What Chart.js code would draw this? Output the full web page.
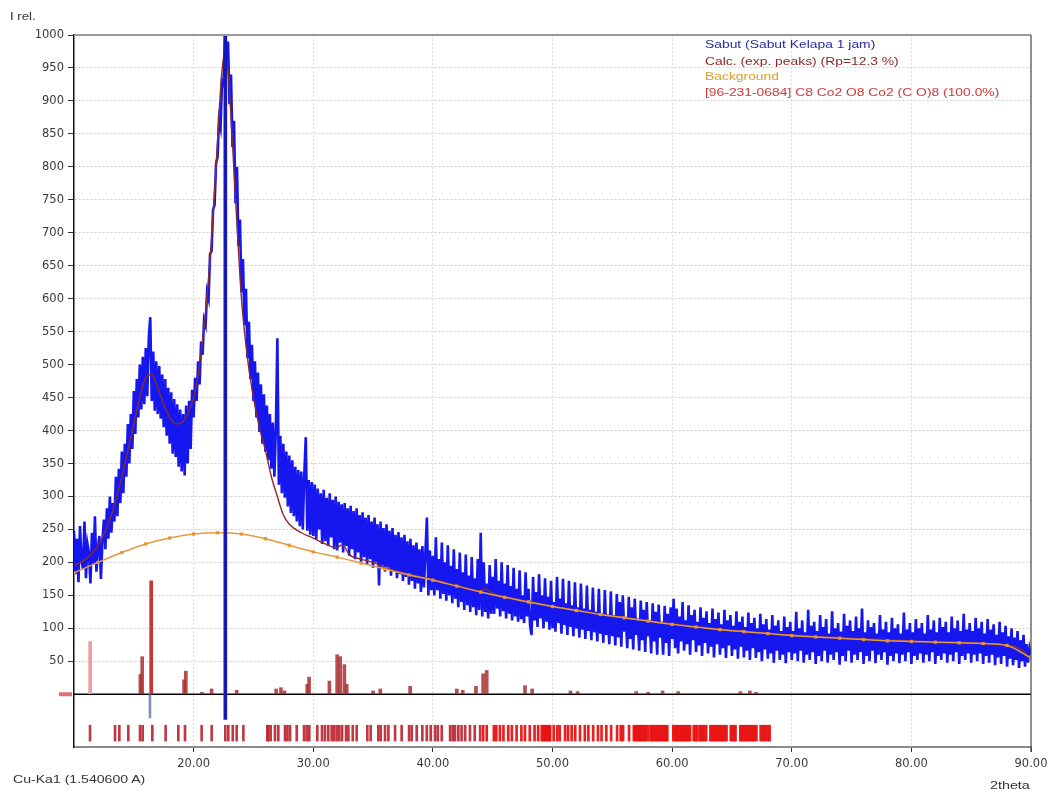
<!DOCTYPE html>
<html>
<head>
<meta charset="utf-8">
<script src="https://cdn.jsdelivr.net/npm/chart.js@4/dist/chart.umd.min.js"></script>
<style>
html,body{margin:0;padding:0;background:#fff;}
#wrap{position:relative;width:1055px;height:796px;overflow:hidden;}
#c{position:absolute;left:0;top:0;}
.t{position:absolute;font-family:"Liberation Sans",Arial,sans-serif;font-size:11px;line-height:13px;white-space:nowrap;transform-origin:0 0;}
</style>
</head>
<body>
<div id="wrap">
<canvas id="c" width="1055" height="796"></canvas>
<div class="t" style="left:10px;top:10px;color:#333;transform:scaleX(1.2)">I rel.</div>
<div class="t" style="left:13px;top:773px;color:#333;transform:scaleX(1.28)">Cu-Ka1 (1.540600 A)</div>
<div class="t" style="left:990px;top:779px;color:#333;transform:scaleX(1.3)">2theta</div>
<div class="t" style="left:705px;top:38px;color:#2b2ba0;transform:scaleX(1.26)">Sabut (Sabut Kelapa 1 jam)</div>
<div class="t" style="left:705px;top:55px;color:#8b2b2b;transform:scaleX(1.26)">Calc. (exp. peaks) (Rp=12.3 %)</div>
<div class="t" style="left:705px;top:70px;color:#d8a030;transform:scaleX(1.26)">Background</div>
<div class="t" style="left:705px;top:86px;color:#d03a3a;transform:scaleX(1.26)">[96-231-0684] C8 Co2 O8 Co2 (C O)8 (100.0%)</div>
</div>
<script>
// ---------------- DATA ----------------
// Observed scan: 2theta from 10.000 to 90.000, step 0.125 deg (20 values per row = 2.5 deg)
const OBS_START = 10;
const OBS_STEP = 0.125;
const obsY = [
  248,182,236,170,255,205,190,262,176,228,214,168,245,198,270,186,222,240,175,232, // 10.0
  265,220,282,236,300,245,290,262,330,270,342,290,368,305,380,330,410,350,425,372, // 12.5
  460,395,478,420,500,432,512,440,525,452,540,572,445,520,430,505,425,498,418,485, // 15.0
  405,478,392,465,380,458,365,448,360,440,345,432,338,425,332,438,350,445,372,462, // 17.5
  420,480,445,505,470,535,515,568,560,610,600,668,672,735,742,805,815,872,860,930, // 20.0
  925,1000,950,990,895,940,830,870,745,800,680,720,610,660,560,615,510,565,478,530, // 22.5
  445,505,420,488,398,470,380,455,368,438,355,425,342,412,330,402,540,318,392,305, // 25.0
  380,298,368,285,362,275,355,270,345,262,340,255,338,250,332,390,248,325,242,322, // 27.5
  240,318,235,312,250,305,228,310,232,298,225,305,238,295,220,300,218,292,230,288, // 30.0
  215,290,225,282,210,286,220,278,205,282,215,272,200,276,208,268,196,272,205,262, // 32.5
  192,268,200,258,165,262,195,252,186,258,192,248,180,252,186,242,176,246,182,238, // 35.0
  172,242,178,232,166,236,172,226,160,230,168,220,155,225,162,215,268,150,218,158, // 37.5
  210,150,238,158,205,145,230,152,200,142,226,150,195,138,220,145,190,132,215,140, // 40.0
  185,128,212,135,180,125,208,132,176,120,205,128,245,118,200,125,168,115,196,122, // 42.5
  178,122,205,130,172,118,200,126,168,115,196,122,164,112,192,118,160,110,188,114, // 45.0
  150,108,185,118,160,104,90,178,112,155,102,182,115,150,100,176,110,148,98,172,   // 47.5
  100,140,95,178,108,145,92,175,105,138,90,172,102,135,88,170,100,132,86,168,      // 50.0
  98,130,84,165,96,128,82,162,94,125,80,160,92,122,78,158,90,120,76,156,           // 52.5
  88,118,74,152,86,140,72,150,95,115,70,148,84,132,68,145,90,112,66,142,           // 55.0
  82,128,64,140,88,110,62,138,80,125,60,136,86,108,60,134,78,122,58,132,           // 57.5
  84,145,70,130,62,118,80,140,66,112,76,135,60,120,82,128,64,110,74,132,           // 60.0
  58,116,78,126,62,108,72,130,56,114,76,124,60,106,70,128,55,112,74,120,           // 62.5
  58,104,68,126,54,110,72,118,56,102,66,124,52,108,70,116,55,100,64,122,           // 65.0
  50,106,68,114,54,98,62,120,48,104,66,112,52,96,60,118,47,102,64,110,             // 67.5
  52,96,62,125,50,100,66,112,48,94,60,128,52,104,64,110,46,96,58,120,              // 70.0
  50,102,66,114,48,92,60,126,52,100,64,108,45,95,58,122,50,104,66,112,             // 72.5
  48,96,60,118,52,100,64,130,46,94,58,112,50,102,66,108,47,92,60,120,              // 75.0
  52,98,64,110,45,94,58,116,50,100,62,106,47,92,60,124,50,98,64,108,               // 77.5
  46,94,58,114,52,100,62,108,48,92,60,120,50,98,64,112,46,94,58,116,               // 80.0
  52,102,62,110,48,94,60,118,50,100,64,112,46,96,58,122,52,98,62,108,              // 82.5
  48,96,60,116,50,100,62,110,46,92,58,114,48,98,60,106,44,90,56,110,               // 85.0
  46,94,58,104,42,88,54,100,44,86,52,96,40,82,50,90,42,76,48,70,                   // 87.5
  60                                                                               // 90.0
];

// Calculated profile (exp. peaks)
const calcX = [10,11,12,13,14,15,15.5,16,16.5,17,17.5,18,18.5,19,19.5,20,20.5,21,21.5,22,22.3,22.6,22.9,23.2,23.6,24,24.5,25,25.5,26,26.5,27,27.5,28,29,30,31,32,32.3,32.6,33,34,35,36,38,40,42,44,44.4,45,46,48,50,55,60,65,70,75,80,85,88,89,90];
const calcY = [195,205,225,265,330,410,450,480,485,465,440,420,410,412,425,450,500,580,690,840,930,975,940,850,720,600,510,450,405,370,330,300,272,258,245,237,228,222,226,224,212,205,200,192,182,174,165,157,160,153,148,141,134,119,107,97,90,85,81,78,74,70,55];

// Background
const bgX = [10,12,14,16,18,20,22,24,26,28,30,32,34,36,38,40,42,44,46,48,50,52,54,56,58,60,62,64,66,68,70,72,74,76,78,80,82,84,86,88,90];
const bgY = [184,200,215,228,237,243,245,243,236,226,216,208,199,190,181,173,164,155,147,140,133,127,121,116,111,106,102,98,95,92,89,87,85,83,81,80,79,78,77,74,55];

// Reference pattern [96-231-0684] stick intensities
const stickPos = [11.35,15.55,15.7,16.45,19.2,19.35,20.7,21.5,23.6,26.9,27.3,27.6,29.5,29.65,31.35,32.0,32.25,32.6,32.8,35.0,35.6,38.1,42.0,42.5,43.6,44.2,44.5,47.7,48.3,51.5,52.1,57.0,58.0,59.2,60.5,65.7,66.5,67.0];
const stickInt = [80,30,57,172,22,35,3,8,6,8,10,5,15,26,20,60,57,45,15,5,8,12,8,6,12,31,36,13,8,5,4,4,3,5,4,4,5,3];

// Difference below the zero line
const diffPos = [16.35];
const diffVal = [-36];

// Peak marker (vertical line)
const markPos = [22.65];
const markRange = [[-38, 1000]];

// Reflection positions (tick row)
const reflPos = [11.34,13.43,13.79,14.54,15.52,15.74,16.55,17.66,18.72,19.28,20.67,21.51,22.65,22.9,23.27,23.6,24.16,
  26.16,26.25,26.44,26.8,27.08,27.64,27.84,28.06,28.62,29.23,29.45,29.67,30.34,30.73,30.98,31.26,31.54,31.74,31.96,32.18,32.41,32.74,32.94,33.3,33.63,
  34.52,34.8,35.44,35.64,36.0,36.28,36.84,37.39,38.01,38.23,38.65,39.12,39.49,39.82,40.18,40.41,40.74,41.44,41.66,41.85,42.13,42.4,42.7,43.1,43.5,43.95,
  44.2,44.5,45.1,45.3,45.6,45.9,46.3,46.6,47.0,47.4,47.7,48.1,48.5,48.8,49.1,49.22,49.35,49.47,49.6,49.72,49.8,50.1,50.4,50.6,51.05,51.3,51.6,51.9,
  52.3,52.7,53.0,53.4,53.8,54.1,54.5,54.9,55.4,55.7,55.9,56.4,56.8,56.92,57.05,57.18,57.3,57.42,57.55,57.68,57.8,58.0,58.2,58.33,58.46,58.6,58.72,58.85,
  58.98,59.1,59.25,59.38,59.5,59.6,60.1,60.22,60.35,60.48,60.6,60.74,60.87,61.0,61.13,61.26,61.38,61.5,61.8,61.95,62.1,62.3,62.43,62.56,62.7,62.85,
  63.2,63.33,63.46,63.6,63.73,63.86,64.0,64.13,64.26,64.4,64.55,64.9,65.03,65.16,65.3,65.7,65.83,65.96,66.1,66.23,66.36,66.5,66.63,66.76,66.9,67.05,
  67.4,67.55,67.7,67.85,68.0,68.15];
const TICK_ROW = [-71, -47];

// Axis settings
const X_MIN = 10, X_MAX = 90, X_STEP = 10;
const Y_MIN = -80, Y_MAX = 1000, Y_STEP = 50, Y_LABEL_MIN = 50;

// ---------------- CHART ----------------
const obsData = obsY.map((v, i) => ({x: OBS_START + i * OBS_STEP, y: v}));
const calcData = calcX.map((x, i) => ({x, y: calcY[i]}));
const bgData = bgX.map((x, i) => ({x, y: bgY[i]}));
const stickData = stickPos.map((x, i) => ({x, y: stickInt[i]}));
const diffData = diffPos.map((x, i) => ({x, y: diffVal[i]}));
const markData = markPos.map((x, i) => ({x, y: markRange[i]}));
const reflData = reflPos.map(x => ({x, y: TICK_ROW}));

const FONT = {family: '"DejaVu Sans", "Liberation Sans", Arial, sans-serif', size: 11.5};

const framePlugin = {
  id: 'frame',
  beforeDatasetsDraw(chart) {
    const {ctx, chartArea: a, scales: {y}} = chart;
    const y0 = y.getPixelForValue(0);
    ctx.save();
    ctx.strokeStyle = '#000';
    ctx.lineWidth = 1.5;
    ctx.beginPath(); ctx.moveTo(a.left, y0); ctx.lineTo(a.right, y0); ctx.stroke();
    ctx.fillStyle = '#e07070';
    ctx.fillRect(a.left - 15, y0 - 2, 13, 4);
    ctx.restore();
  },
  afterDraw(chart) {
    const {ctx, chartArea: a} = chart;
    ctx.save();
    ctx.strokeStyle = '#9a9a9a'; ctx.lineWidth = 2;
    ctx.beginPath(); ctx.moveTo(a.left, a.top); ctx.lineTo(a.right, a.top); ctx.stroke();
    ctx.strokeStyle = '#444'; ctx.lineWidth = 1.2;
    ctx.beginPath(); ctx.moveTo(a.right, a.top); ctx.lineTo(a.right, a.bottom + 5); ctx.stroke();
    ctx.restore();
  }
};

new Chart(document.getElementById('c'), {
  type: 'line',
  data: {
    datasets: [
      {label: 'Sabut (Sabut Kelapa 1 jam)', data: obsData, borderColor: '#1616ee', borderWidth: 2.6, pointRadius: 0, tension: 0, order: 6},
      {label: 'Calc. (exp. peaks) (Rp=12.3 %)', data: calcData, borderColor: '#8a2c2c', borderWidth: 1.4, pointRadius: 0, cubicInterpolationMode: 'monotone', order: 4},
      {label: 'Background', data: bgData, borderColor: '#e69a40', borderWidth: 1.5, pointRadius: 2.3, pointStyle: 'rect', pointBackgroundColor: '#e8923a', pointBorderWidth: 0, cubicInterpolationMode: 'monotone', order: 3},
      {type: 'bar', label: '[96-231-0684]', data: stickData, barThickness: 3, grouped: false,
        backgroundColor: c => (c.raw && c.raw.y > 100) ? '#cc3333' : (c.raw && c.raw.x < 12 ? '#e8a0a0' : 'rgba(168,48,48,0.85)'), order: 2},
      {type: 'bar', label: 'diff', data: diffData, barThickness: 2, grouped: false, backgroundColor: '#8090b8', order: 2},
      {type: 'bar', label: 'refl', data: reflData, barThickness: 2, grouped: false,
        backgroundColor: c => (c.raw && c.raw.x < 44) ? 'rgba(185,35,45,0.9)' : 'rgba(232,18,18,0.95)', order: 1},
      {type: 'bar', label: 'mark', data: markData, barThickness: 3, grouped: false, backgroundColor: '#1818b8', order: 0}
    ]
  },
  options: {
    responsive: false,
    devicePixelRatio: 1,
    animation: false,
    events: [],
    layout: {padding: {left: 0, right: 24, top: 35, bottom: 0}},
    plugins: {legend: {display: false}, tooltip: {enabled: false}, title: {display: false}},
    scales: {
      x: {
        type: 'linear', min: X_MIN, max: X_MAX, offset: false,
        ticks: {stepSize: X_STEP, color: '#3a3a3a', font: FONT, padding: 5, maxRotation: 0, autoSkip: false,
          callback: v => v > X_MIN ? Number(v).toFixed(2) : ''},
        grid: {offset: false, lineWidth: 1, tickLength: 5,
          color: c => (c.tick && c.tick.value > X_MIN && c.tick.value < X_MAX) ? '#e4e2cc' : 'rgba(0,0,0,0)',
          tickColor: c => (c.tick && c.tick.value > X_MIN) ? '#333' : 'rgba(0,0,0,0)'},
        border: {color: '#8a8a8a', width: 2, dash: [2, 2]},
        afterFit: s => { s.height = 49; }
      },
      y: {
        type: 'linear', min: Y_MIN, max: Y_MAX,
        ticks: {stepSize: Y_STEP, color: '#3a3a3a', font: FONT, padding: 4,
          callback: v => v >= Y_LABEL_MIN ? String(v) : ''},
        grid: {lineWidth: 1, tickLength: 6,
          color: c => (c.tick && c.tick.value >= Y_LABEL_MIN && c.tick.value < Y_MAX) ? '#cfcfcf' : 'rgba(0,0,0,0)',
          tickColor: c => (c.tick && c.tick.value >= Y_LABEL_MIN) ? '#333' : 'rgba(0,0,0,0)'},
        border: {color: '#111', width: 1.5, dash: [2, 2]},
        afterFit: s => { s.width = 74; }
      }
    }
  },
  plugins: [framePlugin]
});
</script>
</body>
</html>
